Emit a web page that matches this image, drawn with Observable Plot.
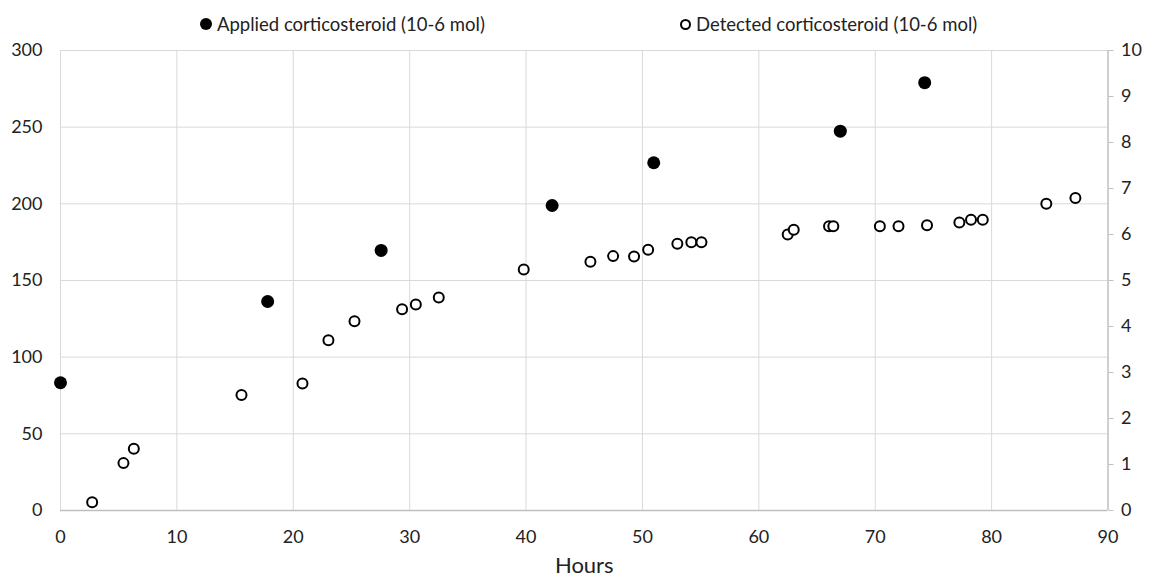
<!DOCTYPE html>
<html>
<head>
<meta charset="utf-8">
<script src="https://cdn.jsdelivr.net/npm/d3@7"></script>
<script src="https://cdn.jsdelivr.net/npm/@observablehq/plot@0.6"></script>
<style>
  html, body { margin: 0; padding: 0; background: #fff; }
  body { width: 1149px; height: 576px; overflow: hidden; font-family: Lato, "Open Sans", sans-serif; color: #222; }
  #legend { position: relative; z-index: 1; height: 32px; font-size: 18.5px; }
  .item { position: absolute; top: 13px; display: flex; align-items: center; white-space: nowrap; line-height: 22px; }
  .sw { display: inline-block; box-sizing: border-box; border-radius: 50%; margin-right: 5px; }
  .filled { width: 12px; height: 12px; background: #000; }
  .open { width: 11px; height: 11px; border: 2px solid #000; background: #fff; }
  #chart svg { overflow: visible; }
</style>
</head>
<body>
<div id="legend">
  <div class="item" style="left:200px"><span class="sw filled"></span><span id="l1"></span></div>
  <div class="item" style="left:680px"><span class="sw open"></span><span id="l2"></span></div>
</div>
<div id="chart"></div>
<script>
const seriesNames = ["Applied corticosteroid (10-6 mol)", "Detected corticosteroid (10-6 mol)"];
const xLabel = "Hours";

const appliedHours  = [0, 17.8, 27.55, 42.24, 50.97, 67.0, 74.25];
const appliedAmount = [83.3, 136.3, 169.6, 198.9, 226.8, 247.4, 279.0];

const detectedHours  = [2.72, 5.41, 6.30, 15.55, 20.79, 23.02, 25.26, 29.35, 30.53, 32.5, 39.8, 45.53, 47.48, 49.28, 50.49, 53.0, 54.2, 55.07, 62.48, 63.0, 66.03, 66.4, 70.4, 72.0, 74.45, 77.23, 78.23, 79.24, 84.7, 87.2];
const detectedAmount = [5.4, 30.9, 40.2, 75.4, 82.8, 111.1, 123.5, 131.3, 134.4, 138.9, 157.2, 162.2, 165.9, 165.7, 170.0, 173.9, 175.0, 175.0, 180.0, 183.1, 185.4, 185.4, 185.4, 185.4, 186.1, 187.8, 189.6, 189.6, 200.0, 203.8];

const xTicks = [0, 10, 20, 30, 40, 50, 60, 70, 80, 90];
const leftTicks = [0, 50, 100, 150, 200, 250, 300];
const rightTicks = [0, 1, 2, 3, 4, 5, 6, 7, 8, 9, 10];
const rightFactor = 30; // 10 on the right axis = 300 on the left

document.getElementById("l1").textContent = seriesNames[0];
document.getElementById("l2").textContent = seriesNames[1];

const applied = appliedHours.map((h, i) => ({h, v: appliedAmount[i]}));
const detected = detectedHours.map((h, i) => ({h, v: detectedAmount[i]}));

const chart = Plot.plot({
  width: 1149,
  height: 544,
  marginTop: 18,
  marginBottom: 66,
  marginLeft: 60,
  marginRight: 41.5,
  style: {fontFamily: "Lato, 'Open Sans', sans-serif", fontSize: "18px", color: "#222", background: "transparent", overflow: "visible"},
  x: {domain: [0, 90]},
  y: {domain: [0, 300]},
  marks: [
    Plot.gridX(xTicks.slice(0, -1), {stroke: "#d9d9d9", strokeOpacity: 1}),
    Plot.gridY(leftTicks.slice(1), {stroke: "#d9d9d9", strokeOpacity: 1}),
    Plot.ruleY([0], {stroke: "#bfbfbf", strokeWidth: 1.5}),
    Plot.ruleX([90], {stroke: "#bfbfbf", strokeWidth: 1.5}),
    Plot.axisX({ticks: xTicks, tickSize: 0, tickPadding: 20, label: null, fill: "#222"}),
    Plot.axisY({ticks: leftTicks, tickSize: 0, tickPadding: 18, label: null, fill: "#222"}),
    Plot.axisY({anchor: "right", ticks: rightTicks.map(t => t * rightFactor), tickFormat: d => d / rightFactor,
      tickSize: 5, tickPadding: 8, stroke: "#bfbfbf", fill: "#222", label: null}),
    Plot.dot(detected, {x: "h", y: "v", r: 5, stroke: "#000", strokeWidth: 2, fill: "#fff"}),
    Plot.dot(applied, {x: "h", y: "v", r: 6.5, fill: "#000", stroke: "none"}),
    Plot.text([xLabel], {frameAnchor: "bottom", dy: 62, fontSize: 22, fill: "#222", lineAnchor: "bottom"})
  ]
});
document.getElementById("chart").appendChild(chart);
</script>
</body>
</html>
